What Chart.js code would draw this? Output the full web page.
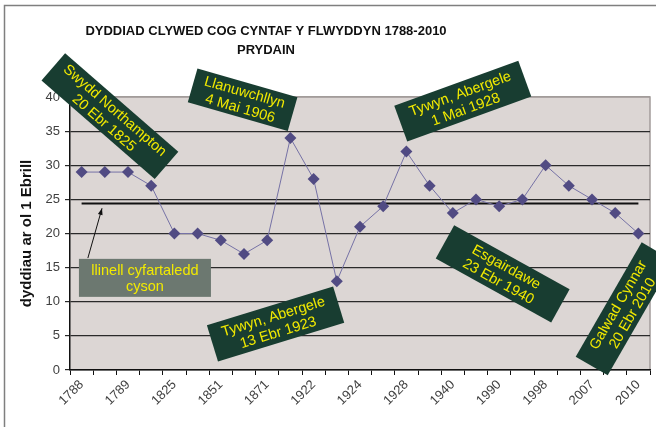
<!DOCTYPE html>
<html>
<head>
<meta charset="utf-8">
<script src="https://cdn.jsdelivr.net/npm/chart.js@4"></script>
<style>
  html, body { margin: 0; padding: 0; background: #fff; }
  #wrap { width: 656px; height: 427px; }
</style>
</head>
<body>
<div id="wrap"><canvas id="cogChart" width="656" height="427"></canvas></div>
<script>
// categories (only every other year is labelled on the axis)
const years = ['1788', '', '1789', '', '1825', '', '1851', '', '1871', '', '1922', '', '1924', '',
               '1928', '', '1940', '', '1990', '', '1998', '', '2007', '', '2010'];
// days after 1 April the first cuckoo was heard
const days = [29, 29, 29, 27, 20, 20, 19, 17, 19, 34, 28, 13, 21, 24, 32, 27, 23, 25, 24, 25, 30, 27, 25, 23, 20];
// steady average line
const averageDays = 24.4;
const yMin = 0, yMax = 40, yStep = 5;

const titleLines = ['DYDDIAD CLYWED COG CYNTAF Y FLWYDDYN 1788-2010', 'PRYDAIN'];
const yTitle = 'dyddiau ar ol 1 Ebrill';

// callouts, anchored in data units (category index, days)
const callouts = [
  { at: [1.22, 37.2], w: 150, h: 36, angle: 41, lines: ['Swydd Northampton', '20 Ebr 1825'] },
  { at: [6.94, 39.6], w: 104, h: 35, angle: 16, lines: ['Llanuwchllyn', '4 Mai 1906'] },
  { at: [16.43, 39.4], w: 132, h: 38, angle: -20, lines: ['Tywyn, Abergele', '1 Mai 1928'] },
  { at: [8.36, 6.74], w: 132, h: 38, angle: -17, lines: ['Tywyn, Abergele', '13 Ebr 1923'] },
  { at: [18.15, 14.1], w: 132, h: 38, angle: 29, lines: ['Esgairdawe', '23 Ebr 1940'] },
  { at: [23.41, 8.97], w: 132, h: 37, angle: -60, lines: ['Galwad Cynnar', '20 Ebr 2010'] }
];
const avgNote = { at: [2.73, 13.5], w: 132, h: 38, lines: ['llinell cyfartaledd', 'cyson'] };
const avgArrow = { from: [0.27, 16.4], to: [0.88, 23.7] };

const FONT = '"Liberation Sans", Arial, sans-serif';

function drawBox(ctx, cx, cy, w, h, angle, lines, bg) {
  ctx.save();
  ctx.translate(cx, cy);
  ctx.rotate(angle * Math.PI / 180);
  ctx.fillStyle = bg;
  ctx.fillRect(-w / 2, -h / 2, w, h);
  ctx.fillStyle = '#f2ea00';
  ctx.font = '14.5px ' + FONT;
  ctx.textAlign = 'center';
  ctx.textBaseline = 'middle';
  lines.forEach((t, i) => ctx.fillText(t, 0, (i - (lines.length - 1) / 2) * 16.5 + 1));
  ctx.restore();
}

const decorations = {
  id: 'decorations',
  beforeDraw(chart) {
    const { ctx, chartArea: a } = chart;
    ctx.save();
    ctx.fillStyle = '#fff';
    ctx.fillRect(0, 0, chart.width, chart.height);
    // outer frame
    ctx.strokeStyle = '#7f7f7f';
    ctx.lineWidth = 1.5;
    ctx.strokeRect(4.5, 5.5, 800, 600);
    // plot area
    ctx.fillStyle = '#dcd6d4';
    ctx.fillRect(a.left, a.top, a.right - a.left, a.bottom - a.top);
    ctx.strokeStyle = '#a29c9a';
    ctx.lineWidth = 1.5;
    ctx.beginPath();
    ctx.moveTo(a.left, a.top);
    ctx.lineTo(a.right, a.top);
    ctx.lineTo(a.right, a.bottom);
    ctx.stroke();
    // title
    ctx.fillStyle = '#111';
    ctx.font = 'bold 13px ' + FONT;
    ctx.textAlign = 'center';
    ctx.textBaseline = 'alphabetic';
    ctx.fillText(titleLines[0], 266, 35);
    ctx.fillText(titleLines[1], 266, 54);
    ctx.restore();
  },
  afterDraw(chart) {
    const { ctx, scales: { x, y } } = chart;
    const px = p => [x.getPixelForValue(p[0]), y.getPixelForValue(p[1])];
    // arrow to the average line
    const [x0, y0] = px(avgArrow.from);
    const [x1, y1] = px(avgArrow.to);
    ctx.save();
    ctx.strokeStyle = '#111';
    ctx.fillStyle = '#111';
    ctx.lineWidth = 1;
    ctx.beginPath();
    ctx.moveTo(x0, y0);
    ctx.lineTo(x1, y1);
    ctx.stroke();
    const ang = Math.atan2(y1 - y0, x1 - x0);
    ctx.beginPath();
    ctx.moveTo(x1, y1);
    ctx.lineTo(x1 - 7 * Math.cos(ang - 0.35), y1 - 7 * Math.sin(ang - 0.35));
    ctx.lineTo(x1 - 7 * Math.cos(ang + 0.35), y1 - 7 * Math.sin(ang + 0.35));
    ctx.closePath();
    ctx.fill();
    ctx.restore();

    const [nx, ny] = px(avgNote.at);
    drawBox(ctx, nx, ny, avgNote.w, avgNote.h, 0, avgNote.lines, '#6c7870');
    callouts.forEach(c => {
      const [cx, cy] = px(c.at);
      drawBox(ctx, cx, cy, c.w, c.h, c.angle, c.lines, '#183d31');
    });
  }
};

new Chart(document.getElementById('cogChart'), {
  type: 'line',
  data: {
    labels: years,
    datasets: [
      {
        label: 'dyddiau',
        data: days,
        borderColor: '#7672a6',
        borderWidth: 1,
        pointStyle: 'rectRot',
        pointRadius: 6,
        pointBackgroundColor: '#514b83',
        pointBorderColor: '#514b83',
        pointBorderWidth: 0,
        tension: 0,
        order: 0
      },
      {
        label: 'cyfartaledd',
        data: years.map(() => averageDays),
        borderColor: '#111',
        borderWidth: 2,
        pointRadius: 0,
        order: 1
      }
    ]
  },
  options: {
    responsive: false,
    animation: false,
    layout: { padding: { top: 97, right: 4, left: 0, bottom: 0 } },
    plugins: {
      legend: { display: false },
      title: { display: false },
      tooltip: { enabled: false }
    },
    scales: {
      x: {
        offset: true,
        grid: {
          offset: true,
          drawOnChartArea: false,
          drawTicks: true,
          tickLength: 5,
          color: '#111'
        },
        border: { color: '#111', width: 1.5 },
        ticks: {
          autoSkip: false,
          minRotation: 45,
          maxRotation: 45,
          padding: 2,
          color: '#404040',
          font: { family: FONT, size: 13 }
        },
        afterFit(scale) { scale.height = 57; }
      },
      y: {
        min: yMin,
        max: yMax,
        ticks: {
          stepSize: yStep,
          padding: 5,
          color: '#404040',
          font: { family: FONT, size: 13 }
        },
        grid: {
          color: ctx => (ctx.tick && ctx.tick.value === yMax) ? '#a29c9a' : '#2a2a2a',
          lineWidth: 1.2,
          tickLength: 5
        },
        border: { color: '#111', width: 1.5 },
        title: {
          display: true,
          text: yTitle,
          color: '#111',
          font: { family: FONT, size: 15, weight: 'bold' },
          padding: { top: 18, bottom: 0 }
        },
        afterFit(scale) { scale.width = 70; }
      }
    }
  },
  plugins: [decorations]
});
</script>
</body>
</html>
